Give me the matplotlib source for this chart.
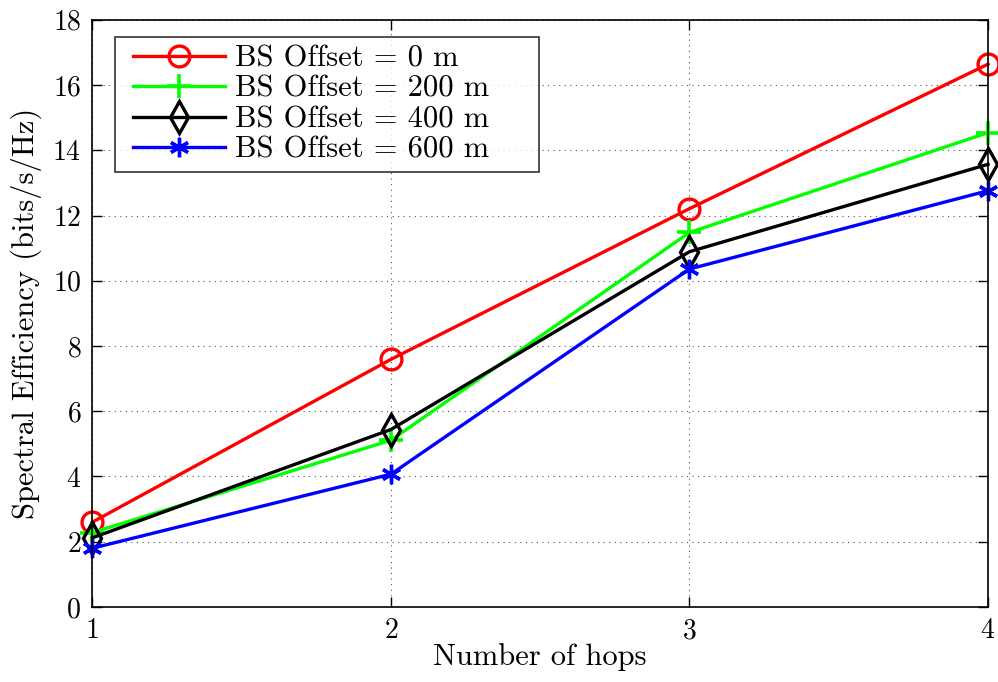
import numpy as np
import matplotlib
matplotlib.use('Agg')
import matplotlib.pyplot as plt
from matplotlib.legend_handler import HandlerLine2D

plt.rcParams['font.family'] = 'serif'
plt.rcParams['font.serif'] = ['cmr10', 'DejaVu Serif']
plt.rcParams['mathtext.fontset'] = 'cm'
plt.rcParams['axes.formatter.use_mathtext'] = True

# spectral efficiency vs number of hops for each BS offset
hops = [1, 2, 3, 4]
se_0m = [2.60, 7.59, 12.21, 16.64]
se_200m = [2.28, 5.11, 11.48, 14.54]
se_400m = [2.12, 5.44, 10.89, 13.57]
se_600m = [1.80, 4.07, 10.36, 12.76]

labels = ['BS Offset = 0 m', 'BS Offset = 200 m', 'BS Offset = 400 m', 'BS Offset = 600 m']

fig = plt.figure(figsize=(9.98, 6.82), dpi=100)
ax = fig.add_axes([0.0925, 0.110, 0.8975, 0.861])

ax.plot(hops, se_0m, color='#ff0000', lw=2.4, marker='o', ms=15, mfc='none', mew=2.4, label=labels[0], clip_on=False)
ax.plot(hops, se_200m, color='#00ff00', lw=2.4, marker='+', ms=17, mew=2.6, label=labels[1], clip_on=False)
ax.plot(hops, se_400m, color='black', lw=2.4, marker='d', ms=16, mfc='none', mew=2.4, label=labels[2], clip_on=False)
ax.plot(hops, se_600m, color='#0000ff', lw=2.4, marker=(6, 2, 0), ms=14, mew=2.4, label=labels[3], clip_on=False)

ax.set_xlim(1, 4)
ax.set_ylim(0, 18)
ax.set_xticks([1, 2, 3, 4])
ax.set_yticks(np.arange(0, 19, 2))
ax.tick_params(direction='in', labelsize=20, length=7, width=1, top=True, right=True, pad=8)
ax.grid(True, color='#555555', linestyle=(0, (1, 4)), linewidth=0.8)
for s in ax.spines.values():
    s.set_linewidth(1.2)

ax.set_xlabel('Number of hops', fontsize=22, labelpad=-1)
ax.set_ylabel('Spectral Efficiency (bits/s/Hz)', fontsize=22, labelpad=7)

# wide boxed legend, handle line inset from the frame
leg = ax.legend(loc='upper left', bbox_to_anchor=(0.025, 0.0, 0.474, 0.970), mode='expand',
                fontsize=22, frameon=True, fancybox=False, edgecolor='black',
                handlelength=3.35, borderpad=0.25, labelspacing=0.1, handletextpad=0.33,
                borderaxespad=0, handler_map={plt.Line2D: HandlerLine2D(xpad=0.34)})
leg.get_frame().set_linewidth(1.2)

fig.savefig('out.png', dpi=100)
